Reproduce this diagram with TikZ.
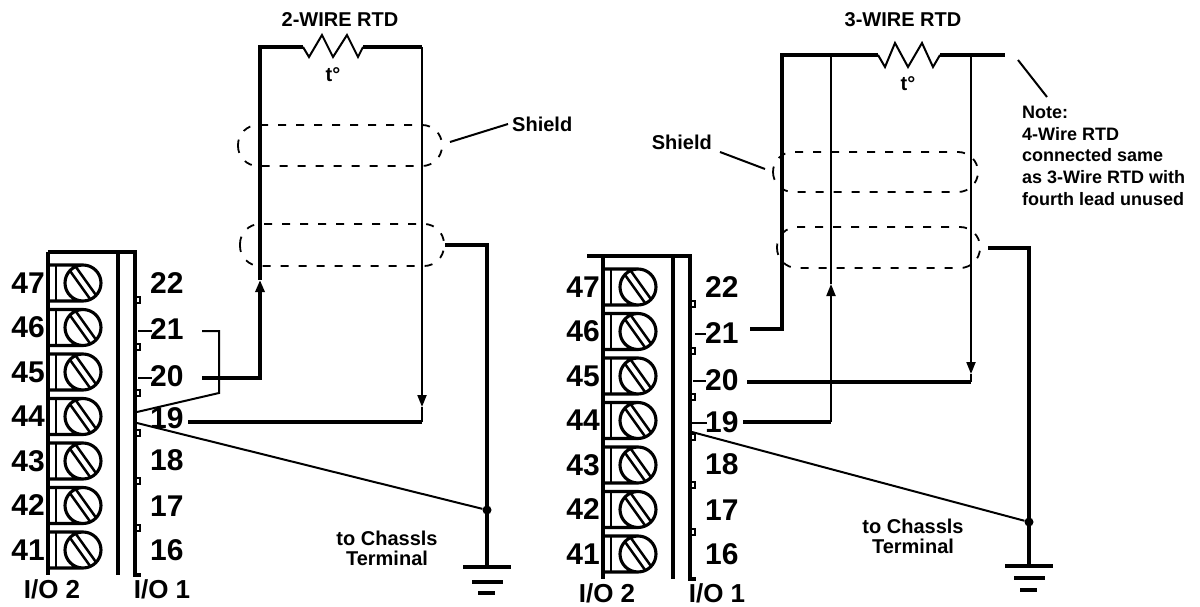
\documentclass[tikz,border=0pt]{standalone}
\usepackage{fontspec}
\setmainfont{Liberation Sans}
\usetikzlibrary{arrows.meta}

\begin{document}
\begin{tikzpicture}[x=1pt,y=-1pt,
  wire/.style={line width=3.1pt},
  lead/.style={line width=2pt},
  num/.style={font=\fontsize{30}{30}\selectfont\bfseries,inner sep=0pt},
  iolbl/.style={font=\fontsize{26}{26}\selectfont\bfseries,inner sep=0pt},
  lbl/.style={font=\fontsize{20}{20}\selectfont\bfseries,inner sep=0pt,align=center},
  note/.style={font=\fontsize{18}{21.7}\selectfont\bfseries,inner sep=0pt,align=left},
  shld/.style={line width=1.8pt,dash pattern=on 8pt off 10pt,rounded corners=20pt},
  flow/.style={-{Triangle[length=12pt,width=9pt]}},
  dot/.style={circle,fill,inner sep=0pt,minimum size=9pt}]
\useasboundingbox (0,0) rectangle (1200,607);
\foreach \bx/\by/\b/\tx in {0/0/a/48,555/4/b/32} {
\begin{scope}[shift={(\bx,\by)}]
\draw[wire] (\tx,252) -- (135,252) -- (135,575) -- (141,575);
\draw[wire] (48,252) -- (48,575);
\draw[line width=3.8pt] (118,252) -- (118,575);
\foreach \n [count=\i from 0] in {47,46,...,41} {
   \pgfmathsetmacro\y{283+44.5*\i}
   \draw[wire] (48,\y-18) -- (83,\y-18) (48,\y+18) -- (83,\y+18) (83,\y) circle (18);
   \draw[lead] (56,\y-18) -- (56,\y+18);
   \draw[line width=2.5pt] (75.9,\y-16) -- (95.9,\y+12) (70.1,\y-12) -- (90.1,\y+16);
   \node[num,anchor=east] (\b\n) at (45,\y) {\n};
}
\foreach \n/\y in {22/283,21/329,20/376,19/418,18/460,17/506,16/550} {
   \node[num,anchor=west] (\b\n) at (150,\y) {\n};
}
\foreach \y in {300,347,393,433,481,528} {
   \draw[lead] (135,\y-3) rectangle (140,\y+3);
}
\node[iolbl] (\b-io2) at (52,589) {I/O 2};
\node[iolbl] (\b-io1) at (162,589) {I/O 1};
\end{scope}
}

\draw[lead] (138,331) -- (152,331) (138,378) -- (152,378);
\draw[lead] (695,334) -- (706,334) (693,381) -- (706,381) (692,423) -- (707,423);

\coordinate (a21w) at (202,331);
\coordinate (a20w) at (202,378);
\coordinate (a19w) at (188,422);
\coordinate (aup) at (260,280);
\coordinate (atl) at (260,47);
\coordinate (ar1) at (303,47);
\coordinate (ar2) at (363,47);
\coordinate (atr) at (422,47);
\coordinate (adn) at (422,407);
\coordinate (abr) at (422,422);
\coordinate (ajt) at (219,331);
\coordinate (ajb) at (219,393);
\coordinate (ajc) at (137,412);
\coordinate (agc) at (137,423);
\coordinate (ash) at (445,245);
\coordinate (agt) at (487,567);
\coordinate (ashp) at (450,142);
\node[dot] (adot) at (487,510) {};

\draw[shld] (238,125) rectangle (442,166);
\draw[shld] (240,224) rectangle (444,266);
\draw[wire,flow] (a20w) -| (aup);
\draw[wire] (aup) -- (atl) -- (ar1);
\draw[lead] (ar1) -- ++(6,10) -- ++(13,-22) -- ++(11,22) -- ++(14,-22) -- ++(11,22) -- (ar2);
\draw[wire] (ar2) -- (atr);
\draw[lead,flow] (atr) -- (adn);
\draw[lead] (adn) -- (abr);
\draw[wire] (abr) -- (a19w);
\draw[lead] (a21w) -- (ajt) -- (ajb) -- (ajc);
\draw[lead] (agc) -- (adot);
\draw[wire] (ash) -| (agt);
\draw[wire] (agt) ++(-24,0) -- ++(48,0) (agt) ++(-15,15) -- ++(31,0) (agt) ++(-9,26) -- ++(17,0);
\node[lbl] (atitle) at (340,20) {2-WIRE RTD};
\node[lbl] (atemp) at (333,75) {t°};
\node[lbl,anchor=west] (ashl) at (512,124) {Shield};
\draw[lead] (ashp) -- ([xshift=-4pt]ashl.west);
\node[lbl] (achs) at (387,548) {to Chassls\\Terminal};

\coordinate (b21w) at (750,329);
\coordinate (b20w) at (747,382);
\coordinate (b19w) at (743,422);
\coordinate (btl) at (782,55);
\coordinate (bmt) at (831,55);
\coordinate (br1) at (878,55);
\coordinate (br2) at (940,55);
\coordinate (brt) at (971,55);
\coordinate (bend) at (1005,55);
\coordinate (bup) at (831,284);
\coordinate (bmb) at (831,422);
\coordinate (bdn) at (971,374);
\coordinate (brb) at (971,382);
\coordinate (bgc) at (692,432);
\coordinate (bsh) at (988,248);
\coordinate (bgt) at (1029,566);
\coordinate (bshp) at (765,169);
\coordinate (bnp) at (1018,60);
\node[dot] (bdot) at (1029,522) {};

\draw[shld] (773,152) rectangle (978,192);
\draw[shld] (777,227) rectangle (980,268);
\draw[wire] (b21w) -| (btl) -- (br1);
\draw[lead] (br1) -- ++(7,12) -- ++(10,-24) -- ++(13,24) -- ++(14,-24) -- ++(11,24) -- (br2);
\draw[wire] (br2) -- (bend);
\draw[wire] (b19w) -- (bmb);
\draw[lead,flow] (bmb) -- (bup);
\draw[lead] (bup) -- (bmt);
\draw[lead,flow] (brt) -- (bdn);
\draw[lead] (bdn) -- (brb);
\draw[wire] (brb) -- (b20w);
\draw[lead] (bgc) -- (bdot);
\draw[wire] (bsh) -| (bgt);
\draw[wire] (bgt) ++(-24,0) -- ++(48,0) (bgt) ++(-15,12) -- ++(31,0) (bgt) ++(-9,24) -- ++(17,0);
\node[lbl] (btitle) at (903,20) {3-WIRE RTD};
\node[lbl] (btemp) at (908,84) {t°};
\node[lbl,anchor=east] (bshl) at (712,142) {Shield};
\draw[lead] ([shift={(8,10)}]bshl.east) -- (bshp);
\node[lbl] (bchs) at (913,536) {to Chassls\\Terminal};
\node[note,anchor=north west] (bnote) at (1022,106) {Note:\\4-Wire RTD\\connected same\\as 3-Wire RTD with\\fourth lead unused};
\draw[lead] (bnp) -- (1047,97);
\end{tikzpicture}
\end{document}
